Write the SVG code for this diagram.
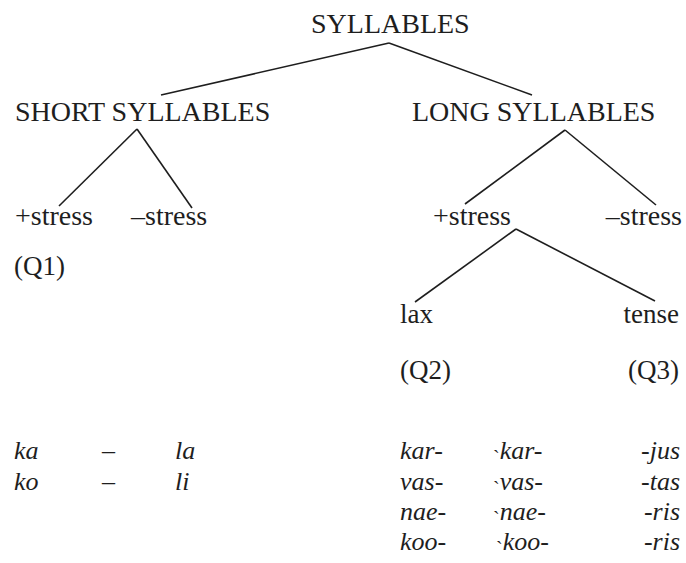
<svg xmlns="http://www.w3.org/2000/svg" width="686" height="563" viewBox="0 0 686 563">
<style>
.t{font-family:"Liberation Serif","Times New Roman",serif;font-size:28px;fill:#1e1e1e}
.s{font-family:"Liberation Serif","Times New Roman",serif;font-size:28px;fill:#1e1e1e}
.q{font-family:"Liberation Serif","Times New Roman",serif;font-size:27px;fill:#1e1e1e}
.i{font-family:"Liberation Serif","Times New Roman",serif;font-size:26px;font-style:italic;fill:#1e1e1e}
.m{font-family:"Liberation Serif","Times New Roman",serif;font-size:20px;font-style:normal}
.e{text-anchor:end}
.c line{stroke:#1e1e1e;stroke-width:1.6;fill:none}
</style>
<rect width="686" height="563" fill="#ffffff"/>
<g class="c" id="connectors">
<line x1="389" y1="43" x2="161" y2="95"/>
<line x1="389" y1="43" x2="532" y2="95"/>
<line x1="137" y1="129" x2="59" y2="206"/>
<line x1="137" y1="129" x2="192" y2="208"/>
<line x1="565" y1="130" x2="465" y2="204"/>
<line x1="565" y1="130" x2="656" y2="205"/>
<line x1="516" y1="229" x2="415" y2="302"/>
<line x1="516" y1="229" x2="655" y2="301"/>
</g>
<g id="syllables"><text class="t" x="311" y="33">SYLLABLES</text></g>
<g id="short"><text class="t" x="15" y="121">SHORT SYLLABLES</text></g>
<g id="long"><text class="t" x="412" y="121">LONG SYLLABLES</text></g>
<g id="short-plus"><text class="s" x="15" y="225">+stress</text></g>
<g id="short-minus"><text class="s" x="131" y="225">–stress</text></g>
<g id="q1"><text class="q" x="14" y="275">(Q1)</text></g>
<g id="long-plus"><text class="s" x="433" y="225">+stress</text></g>
<g id="long-minus"><text class="s e" x="682" y="225">–stress</text></g>
<g id="lax"><text class="q" x="400" y="323">lax</text></g>
<g id="tense"><text class="q e" x="679" y="323">tense</text></g>
<g id="q2"><text class="q" x="400" y="379">(Q2)</text></g>
<g id="q3"><text class="q e" x="679" y="379">(Q3)</text></g>
<g id="examples-short">
<text class="i" x="14" y="459">ka</text>
<text class="i" x="102" y="459">–</text>
<text class="i" x="175" y="459">la</text>
<text class="i" x="14" y="490">ko</text>
<text class="i" x="102" y="490">–</text>
<text class="i" x="175" y="490">li</text>
</g>
<g id="examples-long">
<text class="i" x="400" y="459">kar-</text>
<text class="i" x="400" y="490">vas-</text>
<text class="i" x="400" y="520">nae-</text>
<text class="i" x="400" y="550">koo-</text>
<text class="i" x="493" y="459"><tspan class="m" dy="6">`</tspan><tspan dy="-6">kar-</tspan></text>
<text class="i" x="493" y="490"><tspan class="m" dy="6">`</tspan><tspan dy="-6">vas-</tspan></text>
<text class="i" x="493" y="520"><tspan class="m" dy="6">`</tspan><tspan dy="-6">nae-</tspan></text>
<text class="i" x="496" y="550"><tspan class="m" dy="6">`</tspan><tspan dy="-6">koo-</tspan></text>
<text class="i e" x="680" y="459">-jus</text>
<text class="i e" x="680" y="490">-tas</text>
<text class="i e" x="680" y="520">-ris</text>
<text class="i e" x="680" y="550">-ris</text>
</g>
</svg>
